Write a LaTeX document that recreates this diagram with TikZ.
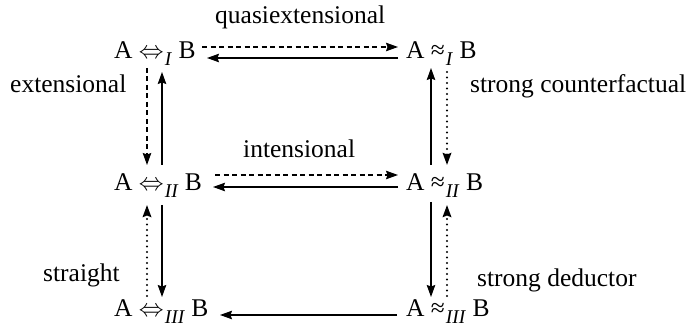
\documentclass[tikz,border=0pt]{standalone}
\usepackage{fontspec}
\setmainfont{Liberation Serif}
\usetikzlibrary{arrows.meta,calc}
\newcommand{\sbx}[1]{\kern1pt\raisebox{-6.5pt}{\fontsize{19.5}{19.5}\selectfont\textit{#1}}}
\begin{document}
\begin{tikzpicture}[x=1pt,y=-1pt,
  lbl/.style={anchor=base west,inner sep=0pt,font=\fontsize{25.5}{30}\selectfont},
  rel/.style={anchor=base west,inner sep=0pt,font=\fontsize{25.5}{30}\selectfont},
  con/.style={line width=1.2pt,-{Stealth[length=12pt,width=8.5pt,inset=1.5pt]}},
  dsh/.style={con,dash pattern=on 5pt off 3.5pt},
  dot/.style={con,line cap=round,dash pattern=on 0pt off 5.5pt,line width=2.3pt},
]
\useasboundingbox (0,0) rectangle (694,328);
\node[rel] (tl) at (114,59) {A $\Leftrightarrow$\sbx{I} B};
\node[rel] (tr) at (406,59) {A ≈\sbx{I} B};
\node[rel] (ml) at (114,191) {A $\Leftrightarrow$\sbx{II} B};
\node[rel] (mr) at (406,191) {A ≈\sbx{II} B};
\node[rel] (bl) at (114,317) {A $\Leftrightarrow$\sbx{III} B};
\node[rel] (br) at (406,317) {A ≈\sbx{III} B};
\node[lbl] (l1) at (215,24) {quasiextensional};
\node[lbl] (l2) at (10,93) {extensional};
\node[lbl] (l3) at (470,93) {strong counterfactual};
\node[lbl] (l4) at (243,158) {intensional};
\node[lbl] (l5) at (43,282) {straight};
\node[lbl] (l6) at (477,287) {strong deductor};
% horizontal
\draw[dsh] ($(tl.base west)+(88,-12)$) -- ($(tr.base west)+(-8,-12)$);
\draw[con] ($(tr.base west)+(-8,-1)$) -- ($(tl.base west)+(93,-1)$);
\draw[dsh] ($(ml.base west)+(101,-16)$) -- ($(mr.base west)+(-8,-16)$);
\draw[con] ($(mr.base west)+(-8,-4)$) -- ($(ml.base west)+(99,-4)$);
\draw[con] ($(br.base west)+(-9,-2)$) -- ($(bl.base west)+(106,-2)$);
% left column
\draw[dsh] ($(tl.base west)+(33,9)$) -- ($(ml.base west)+(33,-26)$);
\draw[con] ($(ml.base west)+(48,-26)$) -- ($(tl.base west)+(48,13)$);
\draw[dot] ($(bl.base west)+(33,-21)$) -- ($(ml.base west)+(33,14)$);
\draw[con] ($(ml.base west)+(48,14)$) -- ($(bl.base west)+(48,-20)$);
% right column
\draw[con] ($(mr.base west)+(25,-26)$) -- ($(tr.base west)+(25,9)$);
\draw[dot] ($(tr.base west)+(41,13)$) -- ($(mr.base west)+(41,-26)$);
\draw[con] ($(mr.base west)+(25,11)$) -- ($(br.base west)+(25,-20)$);
\draw[dot] ($(br.base west)+(41,-21)$) -- ($(mr.base west)+(41,14)$);
\end{tikzpicture}
\end{document}
